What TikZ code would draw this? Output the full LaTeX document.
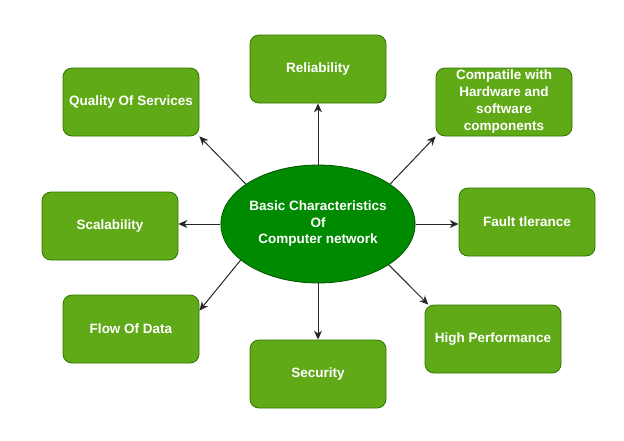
\documentclass[tikz,border=0pt]{standalone}
\usepackage{fontspec}
\setmainfont{Liberation Sans}
\usetikzlibrary{shapes.geometric,arrows.meta}
\definecolor{boxfill}{HTML}{60A917}
\definecolor{boxline}{HTML}{2D7600}
\definecolor{ellfill}{HTML}{008A00}
\definecolor{ellline}{HTML}{005700}
\begin{document}
\begin{tikzpicture}[x=1pt,y=-1pt,
  charbox/.style={draw=boxline, fill=boxfill, line width=0.8pt, rounded corners=9pt,
    minimum width=136pt, minimum height=68pt, inner sep=1pt, align=center,
    text=white, font=\bfseries\fontsize{13.5}{17}\selectfont},
  hub/.style={ellipse, draw=ellline, fill=ellfill, line width=0.8pt,
    minimum width=192pt, minimum height=118pt, inner sep=0pt, align=center,
    text=white, font=\bfseries\fontsize{13.5}{16.5}\selectfont},
  arr/.style={-{Stealth[length=9pt,width=8pt]}, line width=1pt, draw=black!85}]
\useasboundingbox (0,0) rectangle (624,440);
\node[hub] (ell) at (318,224) {Basic Characteristics\\Of\\Computer network};
\node[charbox] (rel) at (318,69) {Reliability};
\node[charbox] (qos) at (131,102) {Quality Of Services};
\node[charbox] (comp) at (504,102) {Compatile with\\Hardware and\\software\\components};
\node[charbox] (scal) at (110,226) {Scalability};
\node[charbox] (fault) at (527,222) {Fault tlerance};
\node[charbox] (flow) at (131,329) {Flow Of Data};
\node[charbox] (sec) at (318,374) {Security};
\node[charbox] (hp) at (493,339) {High Performance};
\draw[arr] (ell.north) -- (rel.south);
\draw[arr] (ell.151) -- (qos.south east);
\draw[arr] (ell.29) -- (comp.south west);
\draw[arr] (ell.west) -- (ell.west -| scal.east);
\draw[arr] (ell.east) -- (ell.east -| fault.west);
\draw[arr] (ell.205) -- (flow.15);
\draw[arr] (ell.south) -- (sec.north);
\draw[arr] (ell.-30) -- (hp.152);
\end{tikzpicture}
\end{document}
